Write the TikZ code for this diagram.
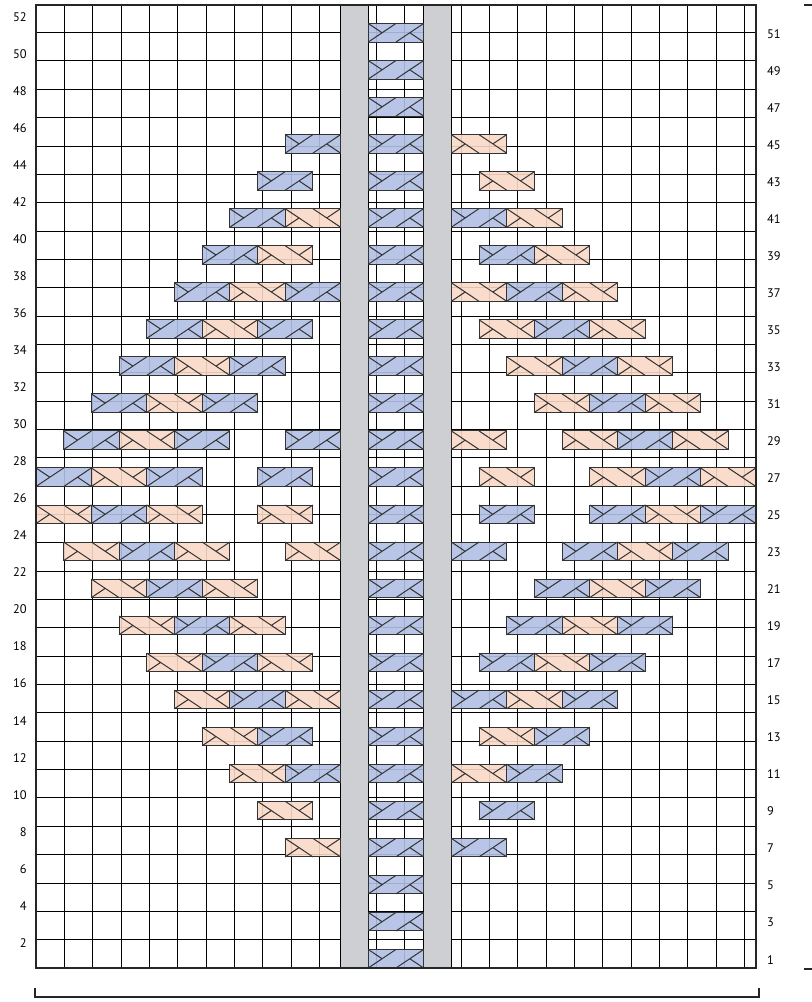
\documentclass[tikz,border=0pt]{standalone}
\usepackage{fontspec}
\setmainfont{PT Sans}
\definecolor{cableblue}{RGB}{176,191,228}
\definecolor{cablepeach}{RGB}{249,216,198}
\definecolor{purlgray}{RGB}{206,207,210}

\begin{document}
\begin{tikzpicture}[x=27.69bp, y=18.52bp,
    cable/.style={draw=black!80, line width=1bp},
    rowno/.style={font=\fontsize{12.5}{14}\selectfont, inner sep=0pt}]
  \useasboundingbox (-1.3,-1.836) rectangle (28.025,52.27);
  % chart grid (26 sts x 52 rows)
  \draw[line width=0.9bp] (0,0) grid (26,52);
  % purl columns
  \foreach \c in {11,14}{
    \fill[purlgray] (\c,0) rectangle (\c+1,52);
    \draw[line width=0.9bp] (\c,0) -- (\c,52) (\c+1,0) -- (\c+1,52);
  }
  % blue crosses (col of left st / row)
  \foreach \c/\r in {13/1,13/3,13/5,13/7,13/9,13/11,13/13,13/15,13/17,13/19,13/21,13/23,13/25,
      13/27,13/29,13/31,13/33,13/35,13/37,13/39,13/41,13/43,13/45,13/47,13/49,13/51,
      16/7,17/9,10/11,18/11,9/13,19/13,8/15,16/15,20/15,7/17,17/17,21/17,6/19,18/19,22/19,
      5/21,19/21,23/21,4/23,16/23,20/23,24/23,3/25,17/25,21/25,25/25,1/27,5/27,9/27,23/27,
      2/29,6/29,10/29,22/29,3/31,7/31,21/31,4/33,8/33,20/33,5/35,9/35,19/35,6/37,10/37,18/37,
      7/39,17/39,8/41,16/41,9/43,10/45}{
    \fill[cableblue, fill opacity=.9] (\c-1,\r-1) rectangle (\c+1,\r);
    \draw[cable] (\c-1,\r-1) rectangle (\c+1,\r);
    \draw[cable] (\c-1,\r-1) -- (\c,\r) (\c,\r-1) -- (\c+1,\r)
      (\c-1,\r) -- (\c-0.5,\r-0.5) (\c+0.5,\r-0.5) -- (\c+1,\r-1);
  }
  % peach crosses
  \foreach \c/\r in {10/7,9/9,8/11,16/11,7/13,17/13,6/15,10/15,18/15,5/17,9/17,19/17,
      4/19,8/19,20/19,3/21,7/21,21/21,2/23,6/23,10/23,22/23,1/25,5/25,9/25,23/25,
      3/27,17/27,21/27,25/27,4/29,16/29,20/29,24/29,5/31,19/31,23/31,6/33,18/33,22/33,
      7/35,17/35,21/35,8/37,16/37,20/37,9/39,19/39,10/41,18/41,17/43,16/45}{
    \fill[cablepeach, fill opacity=.9] (\c-1,\r-1) rectangle (\c+1,\r);
    \draw[cable] (\c-1,\r-1) rectangle (\c+1,\r);
    \draw[cable] (\c-1,\r) -- (\c,\r-1) (\c,\r) -- (\c+1,\r-1)
      (\c-1,\r-1) -- (\c-0.5,\r-0.5) (\c+0.5,\r-0.5) -- (\c+1,\r);
  }
  % outer frame
  \draw[line width=2.6bp, black!85] (0,0) rectangle (26,52);
  % row numbers
  \foreach \r in {2,4,...,52}
    \node[rowno, anchor=east] (ev\r) at (-0.33,\r-0.64) {\r};
  \foreach \r in {1,3,...,51}
    \node[rowno, anchor=west] (od\r) at (26.4,\r-0.55) {\r};
  % repeat brackets
  \draw[line width=1.1bp, black!85] (-0.036,-1.08) -- (-0.036,-1.566) -- (26.11,-1.566) -- (26.11,-1.08);
  \draw[line width=1.1bp, black!85] (27.74,52) -- (28.025,52) (27.74,-0.054) -- (28.025,-0.054);
\end{tikzpicture}
\end{document}
